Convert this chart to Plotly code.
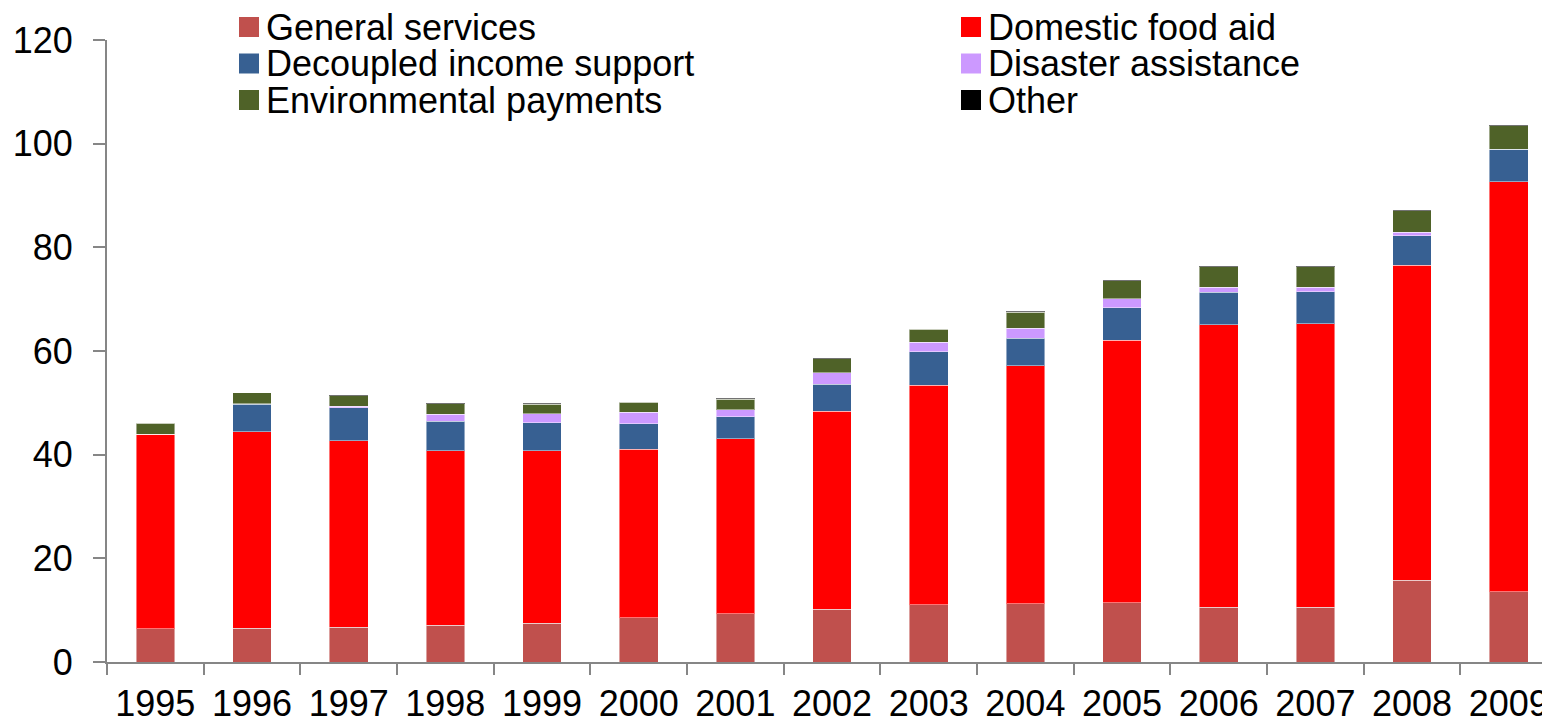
import plotly.graph_objects as go

years = ["1995", "1996", "1997", "1998", "1999", "2000", "2001", "2002",
         "2003", "2004", "2005", "2006", "2007", "2008", "2009"]
general_services = [6.4, 6.5, 6.7, 7.1, 7.5, 8.5, 9.3, 10.2, 11.0, 11.2, 11.4, 10.6, 10.6, 15.8, 13.6]
domestic_food_aid = [37.5, 37.9, 36.0, 33.7, 33.3, 32.5, 33.8, 38.2, 42.4, 46.0, 50.7, 54.5, 54.7, 60.7, 79.1]
decoupled_income = [0.0, 5.3, 6.4, 5.6, 5.4, 5.0, 4.2, 5.2, 6.5, 5.3, 6.2, 6.2, 6.1, 5.7, 6.2]
disaster_assistance = [0.0, 0.1, 0.2, 1.4, 1.7, 2.2, 1.4, 2.2, 1.8, 1.9, 1.8, 1.0, 0.9, 0.7, 0.0]
environmental = [2.2, 2.1, 2.1, 2.0, 1.8, 1.9, 2.0, 2.7, 2.5, 3.1, 3.5, 4.0, 4.0, 4.2, 4.6]
other = [0.0, 0.0, 0.2, 0.1, 0.2, 0.1, 0.2, 0.1, 0.1, 0.2, 0.1, 0.1, 0.1, 0.1, 0.1]
y_ticks = [0, 20, 40, 60, 80, 100, 120]

series = [
    ("General services", general_services, "#C0504D"),
    ("Domestic food aid", domestic_food_aid, "#FF0000"),
    ("Decoupled income support", decoupled_income, "#376092"),
    ("Disaster assistance", disaster_assistance, "#CC99FF"),
    ("Environmental payments", environmental, "#4F6228"),
    ("Other", other, "#000000"),
]

# page body has an 8px margin, so the figure is offset by 8px on screen
OFF = 8
W, H = 1542, 716
ML, MR, MT, MB = 99, 0, 32, 62
PW, PH = W - ML - MR, H - MT - MB
CAT_PX = 96.67  # pixel width of one category in the reference


def px_x(sx):
    return (sx - OFF - ML) / PW


def px_y(sy):
    return (H - MB - (sy - OFF)) / PH


fig = go.Figure()
for name, vals, color in series:
    fig.add_trace(go.Bar(
        x=years, y=vals, name=name, showlegend=False,
        marker=dict(color=color, line=dict(color="rgba(255,255,255,0.45)", width=1)),
    ))

# Legend drawn as two columns, three rows (as in the reference)
swatch_x = [239, 961]
row_y = [27, 63.5, 100]
sw = 20
for i, (name, vals, color) in enumerate(series):
    col, row = i % 2, i // 2
    x0 = swatch_x[col]
    yc = row_y[row]
    fig.add_shape(type="rect", xref="paper", yref="paper",
                  x0=px_x(x0), x1=px_x(x0 + sw),
                  y0=px_y(yc + sw / 2), y1=px_y(yc - sw / 2),
                  fillcolor=color, line=dict(width=0), layer="above")
    fig.add_annotation(xref="paper", yref="paper",
                       x=px_x(x0 + sw + 6), y=px_y(yc),
                       xanchor="left", yanchor="middle",
                       text=name, showarrow=False, borderpad=0,
                       font=dict(size=36, color="black"))

axis_color = "#868686"
fig.update_layout(
    barmode="stack",
    bargap=0.6,
    width=W, height=H,
    margin=dict(l=ML, r=MR, t=MT, b=MB, autoexpand=False),
    paper_bgcolor="white",
    plot_bgcolor="white",
    font=dict(family="Liberation Sans, Arial, sans-serif", color="black", size=36),
    showlegend=False,
    xaxis=dict(
        type="category",
        range=[-0.5, -0.5 + PW / CAT_PX],
        automargin=False,
        showline=True, linecolor=axis_color, linewidth=2,
        ticks="outside", tickson="boundaries", ticklen=11, tickwidth=2, tickcolor=axis_color,
        showgrid=False, zeroline=False,
        tickfont=dict(size=36),
        ticklabelstandoff=9,
    ),
    yaxis=dict(
        range=[0, 120],
        automargin=False,
        tickvals=y_ticks,
        showline=True, linecolor=axis_color, linewidth=2,
        ticks="outside", ticklen=12, tickwidth=2, tickcolor=axis_color,
        showgrid=False, zeroline=False,
        tickfont=dict(size=36),
        ticklabelstandoff=13,
    ),
)

fig.write_html("out.html")
